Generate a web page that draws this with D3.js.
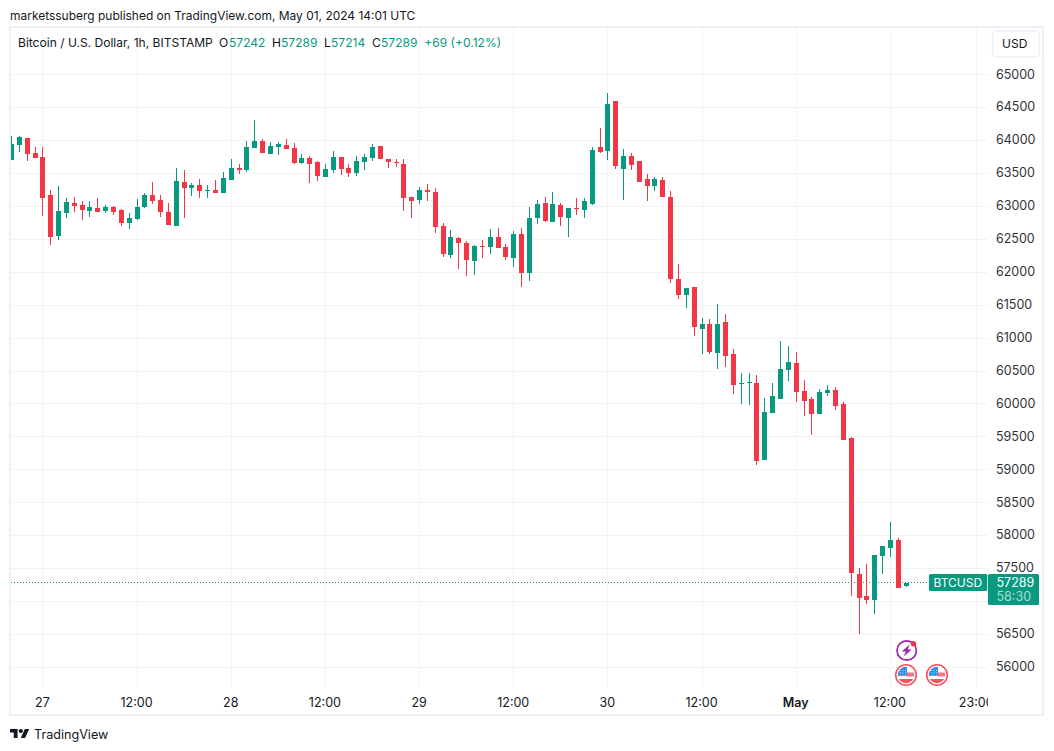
<!DOCTYPE html>
<html><head><meta charset="utf-8">
<script src="https://cdn.jsdelivr.net/npm/d3@7"></script>
<style>
html,body{margin:0;padding:0;background:#fff}
svg{display:block}
text{font-family:Inter,"Liberation Sans",sans-serif;}
</style></head><body>
<svg id="c" width="1054" height="751"></svg>
<script>
const hours=d3.range(-4,111);
const opens=[63706,63934,64041,63813,63752,63175,62552,62901,63053,63023,62931,62977,62931,62992,62947,62749,62810,62992,63175,63099,62916,62704,63372,63281,63326,63235,63251,63205,63402,63585,63554,63889,63995,63797,63904,63934,63889,63661,63737,63676,63448,63554,63752,63585,63509,63676,63737,63919,63721,63676,63646,63144,63099,63251,63220,62704,62263,62521,62445,62172,62400,62385,62537,62385,62217,62582,61990,62825,63053,62764,63023,62825,62977,62947,63038,63904,63843,64603,63570,63767,63691,63418,63311,63402,63147,61901,61658,61780,61142,61217,60777,61248,60762,60296,60326,60321,59151,59865,60078,60519,60625,60200,60078,59850,60169,60215,60002,59486,57413,57078,57018,57686,57808,57929,57242];
const closes=[63949,64056,63797,63737,63129,62537,62931,63068,63007,62947,62992,62916,62992,62916,62749,62825,62992,63175,63083,62916,62719,63387,63281,63326,63235,63250,63205,63433,63585,63554,63904,63995,63813,63919,63949,63873,63661,63737,63646,63463,63570,63752,63570,63509,63691,63752,63904,63721,63676,63666,63129,63083,63251,63220,62688,62278,62537,62445,62187,62400,62390,62537,62369,62233,62582,61990,62825,63038,62780,63038,62840,62977,62967,63083,63858,63828,64557,63615,63767,63630,63372,63311,63418,63144,61901,61658,61764,61172,61217,60792,61217,60731,60291,60321,60336,59136,59881,60124,60534,60640,60184,60048,59850,60184,60215,59972,59455,57428,57048,57018,57701,57838,57929,57200,57289];
const highs=[64071,64071,64041,63904,63904,63251,63311,63129,63144,63083,63083,63129,63023,63007,62962,62901,63114,63205,63372,63175,63053,63585,63554,63357,63418,63326,63402,63524,63721,63646,63995,64314,64025,63980,63980,64025,63965,63797,63767,63691,63646,63843,63752,63646,63767,63797,63949,63919,63721,63721,63721,63144,63296,63342,63281,62749,62643,62537,62476,62415,62491,62658,62673,62430,62628,62673,62992,63099,63144,63220,63053,62977,63129,63129,63904,64192,64724,64603,63873,63813,63691,63494,63448,63448,63238,62129,61764,61780,61309,61293,61521,61369,60838,60473,60473,60443,60093,60321,60959,60883,60792,60367,60109,60230,60291,60260,60033,59501,57504,57565,57701,57838,58203,57960,57289];
const lows=[63706,63828,63691,63737,62856,62415,62491,62825,62916,62795,62840,62916,62901,62871,62704,62658,62795,62977,63038,62840,62719,62704,62825,63159,63129,63129,63205,63205,63402,63494,63524,63889,63813,63797,63782,63873,63646,63646,63357,63387,63448,63509,63478,63448,63463,63554,63691,63721,63585,63600,62931,62825,63038,63083,62597,62233,62217,62050,61944,61959,62217,62278,62369,62187,62081,61777,61868,62734,62764,62764,62704,62537,62871,62825,63023,63813,63706,63570,63099,63554,63372,63083,63235,63144,61840,61597,61461,61035,60762,60762,60534,60564,60154,60002,59987,59075,59151,59865,60078,60352,60033,59820,59531,59850,60124,59911,59455,57078,56501,56957,56805,57413,57671,57200,57214];
const priceTicks=d3.range(56000,65001,500);
const hiddenPriceTick=57000; // covered by the last-price tag in the reference
const timeTicks=[[0,"27",400],[12,"12:00",400],[24,"28",400],[36,"12:00",400],[48,"29",400],[60,"12:00",400],[72,"30",400],[84,"12:00",400],[96,"May",600],[108,"12:00",400],[119,"23:00",400]];
const UP="#089981",DOWN="#F23645",INK="#131722",GRID="#f3f3f5",BORDER="#eff0f6";

const svg=d3.select("#c");
const x=d3.scaleLinear().domain([0,108]).range([42.4,889.9]);
const y=d3.scaleLinear().domain([56000,65000]).range([667.4,74.7]);
const px=v=>Math.round(v);

// frame
svg.append("rect").attr("x",10).attr("y",27).attr("width",1033).attr("height",688).attr("fill","#fff").attr("stroke",BORDER).attr("stroke-width",2);

const plot=svg.append("g");
const defs=svg.append("defs");
defs.append("clipPath").attr("id","plotclip").append("rect").attr("x",11).attr("y",28).attr("width",977).attr("height",660);
defs.append("clipPath").attr("id","timeclip").append("rect").attr("x",11).attr("y",688).attr("width",977).attr("height",26);
defs.append("clipPath").attr("id","flagclip").append("circle").attr("r",8.2);
const clipped=plot.append("g").attr("clip-path","url(#plotclip)");

// grid
clipped.append("g").selectAll("line").data(priceTicks).join("line")
 .attr("x1",11).attr("x2",988).attr("y1",d=>Math.floor(y(d))+.5).attr("y2",d=>Math.floor(y(d))+.5).attr("stroke",GRID);
clipped.append("g").selectAll("line").data(timeTicks).join("line")
 .attr("y1",28).attr("y2",688).attr("x1",d=>px(x(d[0]))+.5).attr("x2",d=>px(x(d[0]))+.5).attr("stroke",GRID);

// last price line
clipped.append("line").attr("x1",11).attr("x2",930).attr("y1",Math.floor(y(57289))+.5).attr("y2",Math.floor(y(57289))+.5)
 .attr("stroke",UP).attr("stroke-dasharray","1 2");

// candles
const candles=hours.map((h,i)=>({h,o:opens[i],c:closes[i],hi:highs[i],lo:lows[i]}));
const g=clipped.append("g").selectAll("g").data(candles).join("g").attr("fill",d=>d.c>=d.o?UP:DOWN);
g.append("rect").attr("x",d=>px(x(d.h))).attr("width",1)
 .attr("y",d=>px(y(d.hi))).attr("height",d=>Math.max(1,px(y(d.lo))-px(y(d.hi))));
g.append("rect").attr("x",d=>px(x(d.h))-2).attr("width",5)
 .attr("y",d=>px(y(Math.max(d.o,d.c)))).attr("height",d=>Math.max(1,px(y(Math.min(d.o,d.c)))-px(y(Math.max(d.o,d.c)))));

// axes (text only, via d3-axis)
const yAxis=d3.axisRight(y).tickValues(priceTicks.filter(d=>d!==hiddenPriceTick)).tickSize(0).tickPadding(0).tickFormat(d3.format("d"));
const ya=svg.append("g").attr("transform","translate(996,-0.7)").call(yAxis);
ya.select(".domain").remove();
ya.selectAll("text").attr("font-size",12.5).attr("fill",INK).attr("font-family","Inter").attr("dy","0.32em").attr("opacity",.9);

const tg=svg.append("g").attr("clip-path","url(#timeclip)");
tg.selectAll("text").data(timeTicks).join("text").attr("x",d=>x(d[0])).attr("y",707)
 .attr("text-anchor","middle").attr("font-size",12.5).attr("font-weight",d=>d[2]).attr("fill",INK).text(d=>d[1]);

// labels
const T=(s,xx,yy,size,fill,w)=>svg.append("text").attr("x",xx).attr("y",yy).attr("font-size",size).attr("fill",fill).attr("font-weight",w||400).text(s);
T("marketssuberg published on TradingView.com, May 01, 2024 14:01 UTC",10,20,11.97,INK);
const head=[["Bitcoin / U.S. Dollar, 1h, BITSTAMP",18,INK],["O",219,INK],["57242",229,UP],["H",272,INK],["57289",281,UP],["L",324,INK],["57214",331,UP],["C",372,INK],["57289",381,UP],["+69 (+0.12%)",424.3,UP]];
head.forEach(d=>T(d[0],d[1],47.3,12.05,d[2]));

// USD button
svg.append("rect").attr("x",992.5).attr("y",31).attr("width",47).attr("height",26).attr("rx",4).attr("fill","#fff").attr("stroke",BORDER).attr("stroke-width",1.5);
T("USD",1002,48.3,12,INK);

// price labels
svg.append("rect").attr("x",929).attr("y",574).attr("width",58.3).attr("height",17).attr("rx",1.5).attr("fill",UP);
T("BTCUSD",933.5,587,12,"#fff");
svg.append("rect").attr("x",988).attr("y",574).attr("width",51).attr("height",31).attr("rx",1.5).attr("fill",UP);
T("57289",996.5,587,12.5,"#fff");
T("58:30",996.5,601,12.5,"#fff").attr("opacity",.65);

// event icons
const flag=(cx,cy)=>{
 const f=svg.append("g").attr("transform",`translate(${cx},${cy})`);
 f.append("circle").attr("r",10.3).attr("fill","#fff").attr("stroke","#f7525f").attr("stroke-width",1.6);
 const inner=f.append("g").attr("clip-path","url(#flagclip)");
 inner.append("rect").attr("x",1).attr("y",-2.5).attr("width",8).attr("height",4).attr("fill","#f7757f");
 inner.append("rect").attr("x",-9).attr("y",4).attr("width",18).attr("height",5).attr("fill","#f7525f");
 inner.append("rect").attr("x",-9).attr("y",-9).attr("width",10).attr("height",10).attr("fill","#3b8be8");
 for(const dx of [-6,-3.5,-1]) for(const dy of [-5,-2.5,0])
  inner.append("rect").attr("x",dx).attr("y",dy).attr("width",.9).attr("height",.9).attr("fill","#cfe3fb");
};
flag(906,675);flag(937,675);
const b=svg.append("g").attr("transform","translate(906.7,650.5)");
b.append("circle").attr("r",9.7).attr("fill","#fff").attr("stroke","#9c27b0").attr("stroke-width",1.7);
b.append("path").attr("d","M3,-6L-5,1H-1L-3,6L5,-1H1Z").attr("fill","#9c27b0");
b.append("circle").attr("cx",6.7).attr("cy",-6.8).attr("r",2.7).attr("fill",DOWN);

// logo
const lg=svg.append("g").attr("transform","translate(10,727) scale(.54,.5)").attr("fill",INK);
lg.append("path").attr("d","M14 22H7V11H0V4h14v18zM28 22h-8l7.5-18h8L28 22z");
lg.append("circle").attr("cx",20).attr("cy",8).attr("r",4);
T("TradingView",34,739,12.6,INK);
</script></body></html>
